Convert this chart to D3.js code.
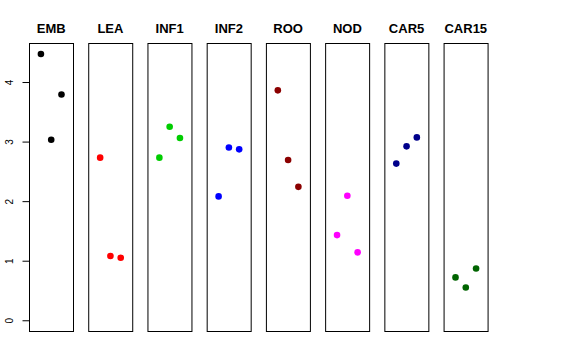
<!DOCTYPE html>
<html>
<head>
<meta charset="utf-8">
<script src="https://cdn.jsdelivr.net/npm/d3@7"></script>
<style>
  body { margin: 0; background: #fff; }
  text { font-family: "Liberation Sans", Arial, Helvetica, sans-serif; }
</style>
</head>
<body>
<div id="chart"></div>
<script>
const width = 576;
const height = 360;

// one panel per group, three points each (x order = jitter position)
const groups = ["EMB", "LEA", "INF1", "INF2", "ROO", "NOD", "CAR5", "CAR15"];
const colors = ["#000000", "#FF0000", "#00CD00", "#0000FF", "#8B0000", "#FF00FF", "#00008B", "#006400"];
const values = [
  [4.47, 3.03, 3.79],
  [2.73, 1.08, 1.05],
  [2.73, 3.25, 3.06],
  [2.08, 2.90, 2.87],
  [3.86, 2.69, 2.24],
  [1.43, 2.09, 1.14],
  [2.63, 2.92, 3.07],
  [0.72, 0.55, 0.87]
];
const positions = [1, 2, 3];
const yTicks = [0, 1, 2, 3, 4];

const svg = d3.select("#chart")
  .append("svg")
  .attr("width", width)
  .attr("height", height);

const band = d3.scaleBand()
  .domain(groups)
  .range([29, 488])
  .paddingInner(0.25)
  .paddingOuter(0);

const y = d3.scaleLinear()
  .domain([-0.18, 4.65])
  .range([331, 43.3]);

const x = d3.scaleLinear()
  .domain([-0.16, 4.16])
  .range([0, band.bandwidth()]);

// y axis, R style: rotated labels
const yAxis = d3.axisLeft(y)
  .tickValues(yTicks)
  .tickSize(7)
  .tickFormat(d3.format("d"));

const axisG = svg.append("g")
  .attr("transform", `translate(${Math.round(band(groups[0])) + 0.5},0)`)
  .call(yAxis);

axisG.select(".domain")
  .attr("d", `M-7,${y(0)}H0V${y(4)}H-7`)
  .attr("stroke", "none");
axisG.selectAll(".tick line").attr("stroke", "#000");
axisG.selectAll(".tick text")
  .attr("font-size", 10)
  .attr("fill", "#000")
  .attr("x", null)
  .attr("dy", null)
  .attr("text-anchor", "middle")
  .attr("transform", "translate(-17,0) rotate(-90)")
  .attr("y", 0);

const panels = svg.selectAll("g.panel")
  .data(groups)
  .join("g")
  .attr("class", "panel")
  .attr("transform", d => `translate(${band(d)},0)`);

panels.append("rect")
  .attr("x", 0.5)
  .attr("y", Math.round(y.range()[1]) + 0.5)
  .attr("width", Math.round(band.bandwidth()))
  .attr("height", Math.round(y.range()[0] - y.range()[1]))
  .attr("fill", "none")
  .attr("stroke", "#000")
  .attr("stroke-width", 1);

panels.append("text")
  .attr("x", band.bandwidth() / 2)
  .attr("y", 33)
  .attr("text-anchor", "middle")
  .attr("font-size", 13)
  .attr("font-weight", "bold")
  .text(d => d);

panels.each(function(g, i) {
  d3.select(this).selectAll("circle")
    .data(values[i])
    .join("circle")
    .attr("cx", (d, j) => x(positions[j]))
    .attr("cy", d => y(d))
    .attr("r", 3.3)
    .attr("fill", colors[i]);
});
</script>
</body>
</html>
